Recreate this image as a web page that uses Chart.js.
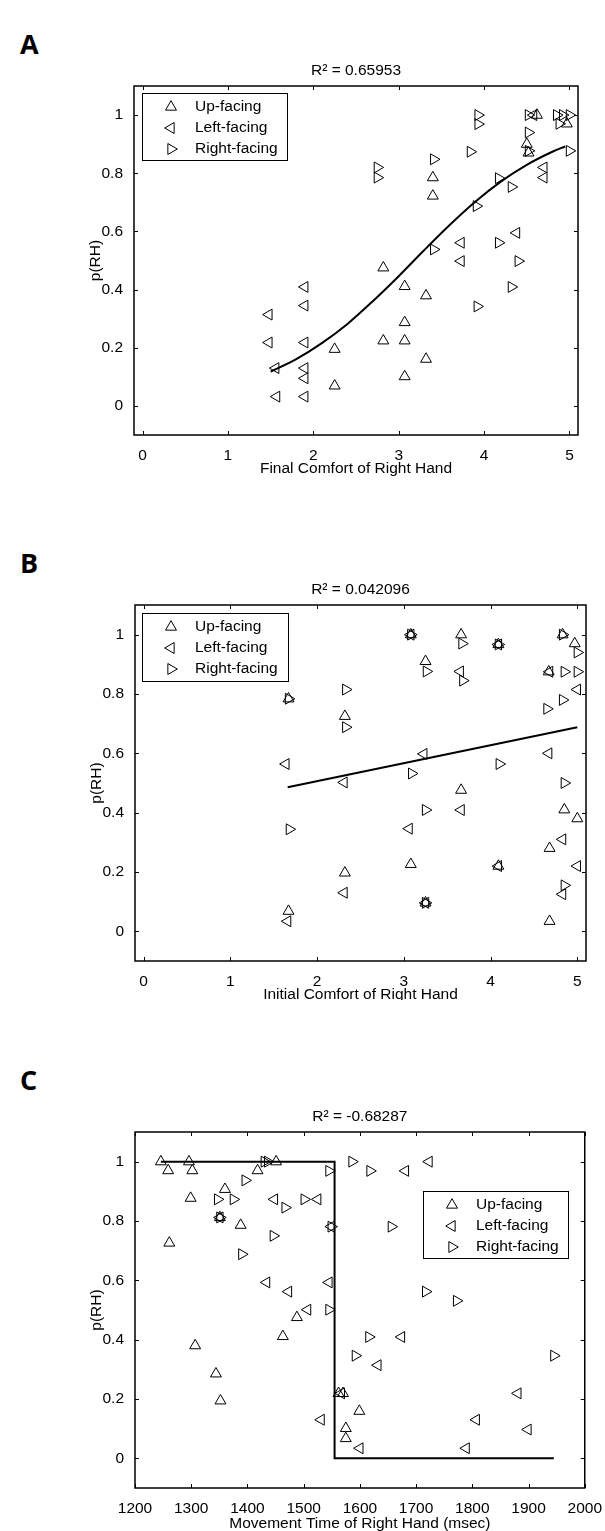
<!DOCTYPE html>
<html>
<head>
<meta charset="utf-8">
<script src="https://cdn.jsdelivr.net/npm/chart.js@4.4.0/dist/chart.umd.min.js"></script>
<style>
  html, body { margin: 0; padding: 0; background: #fff; }
  body { width: 605px; height: 1531px; position: relative; overflow: hidden; }
  .panel { position: absolute; left: 0; width: 605px; }
  .tag { position: absolute; left: 20px; font: bold 27px 'Open Sans', 'DejaVu Sans', sans-serif; color: #000; }
</style>
</head>
<body>
<div class="tag" style="top:25px">A</div>
<div class="tag" style="top:544px">B</div>
<div class="tag" style="top:1061px">C</div>
<div class="panel" style="top:0;height:500px"><canvas id="chartA" width="605" height="500"></canvas></div>
<div class="panel" style="top:500px;height:500px"><canvas id="chartB" width="605" height="500"></canvas></div>
<div class="panel" style="top:1000px;height:531px"><canvas id="chartC" width="605" height="531"></canvas></div>
<script>
// ---- data ----
const seriesNames = ['Up-facing', 'Left-facing', 'Right-facing']
const pTicks = [0, 0.2, 0.4, 0.6, 0.8, 1]
const comfortTicks = [0, 1, 2, 3, 4, 5]
const timeTicks = [1200, 1300, 1400, 1500, 1600, 1700, 1800, 1900, 2000]

// A: final comfort of right hand
const aUpX = [3.40, 3.40, 2.82, 3.07, 3.32, 3.07, 2.82, 3.07, 2.25, 3.32, 3.07, 2.25, 4.50, 4.52, 4.62, 4.97]
const aUpY = [0.785, 0.722, 0.475, 0.411, 0.379, 0.287, 0.224, 0.224, 0.195, 0.161, 0.101, 0.069, 0.90, 0.87, 1.0, 0.97]
const aLeftX = [1.90, 1.48, 1.48, 1.56, 1.57, 1.90, 1.90, 1.90, 1.90, 1.90, 4.38, 3.73, 3.73, 4.58, 4.70, 4.70]
const aLeftY = [0.409, 0.314, 0.218, 0.13, 0.032, 0.345, 0.218, 0.13, 0.095, 0.032, 0.595, 0.561, 0.498, 1.0, 0.82, 0.785]
const aRightX = [3.93, 3.93, 3.84, 2.75, 2.75, 3.41, 4.17, 4.32, 3.91, 4.17, 3.41, 4.40, 4.32, 3.92, 4.52, 4.52, 4.52, 4.85, 4.92, 4.88, 5.0, 5.0]
const aRightY = [1.0, 0.969, 0.874, 0.82, 0.785, 0.848, 0.783, 0.753, 0.687, 0.561, 0.538, 0.498, 0.409, 0.342, 1.0, 0.94, 0.877, 1.0, 1.0, 0.97, 0.877, 1.0]
const aFitX = [1.5, 1.8, 2.1, 2.4, 2.7, 3.0, 3.3, 3.6, 3.9, 4.2, 4.5, 4.8, 4.95]
const aFitY = [0.118, 0.161, 0.216, 0.282, 0.361, 0.446, 0.536, 0.623, 0.703, 0.772, 0.829, 0.874, 0.892]

// B: initial comfort of right hand
const bUpX = [1.67, 1.67, 3.08, 3.66, 4.09, 3.25, 2.32, 3.66, 3.08, 4.09, 2.32, 3.25, 4.83, 4.97, 4.67, 4.85, 5.0, 4.68, 4.68]
const bUpY = [0.784, 0.068, 1.0, 1.0, 0.967, 0.91, 0.725, 0.476, 0.226, 0.22, 0.197, 0.096, 1.0, 0.97, 0.875, 0.41, 0.38, 0.28, 0.034]
const bLeftX = [1.64, 1.66, 3.08, 4.09, 3.65, 3.23, 2.31, 3.66, 3.06, 4.09, 2.31, 3.25, 4.68, 5.0, 4.67, 4.83, 5.0, 4.83]
const bLeftY = [0.564, 0.034, 1.0, 0.967, 0.876, 0.598, 0.502, 0.409, 0.346, 0.22, 0.13, 0.096, 0.875, 0.815, 0.6, 0.31, 0.22, 0.125]
const bRightX = [1.67, 1.68, 3.08, 3.67, 4.09, 3.26, 3.68, 2.33, 2.33, 4.10, 3.09, 3.25, 3.25, 4.83, 5.0, 4.85, 5.0, 4.83, 4.65, 4.85, 4.85]
const bRightY = [0.784, 0.344, 1.0, 0.97, 0.967, 0.876, 0.845, 0.815, 0.688, 0.564, 0.532, 0.409, 0.096, 1.0, 0.94, 0.875, 0.875, 0.78, 0.75, 0.5, 0.155]
const bFitX = [1.66, 5.0]
const bFitY = [0.486, 0.688]

// C: movement time of right hand (msec)
const cUpX = [1246, 1259, 1296, 1302, 1299, 1360, 1351, 1388, 1418, 1451, 1261, 1488, 1463, 1307, 1344, 1352, 1562, 1570, 1599, 1575, 1575]
const cUpY = [1.0, 0.97, 1.0, 0.97, 0.877, 0.907, 0.812, 0.786, 0.97, 1.0, 0.726, 0.475, 0.411, 0.38, 0.285, 0.194, 0.219, 0.219, 0.159, 0.101, 0.067]
const cLeftX = [1351, 1448, 1681, 1723, 1525, 1549, 1434, 1473, 1507, 1545, 1674, 1632, 1567, 1881, 1531, 1807, 1899, 1600, 1789]
const cLeftY = [0.812, 0.873, 0.969, 1.0, 0.873, 0.781, 0.593, 0.562, 0.501, 0.593, 0.409, 0.314, 0.219, 0.219, 0.13, 0.13, 0.097, 0.034, 0.034]
const cRightX = [1351, 1347, 1375, 1396, 1430, 1436, 1467, 1501, 1446, 1545, 1586, 1618, 1549, 1656, 1390, 1545, 1717, 1772, 1616, 1592, 1945]
const cRightY = [0.812, 0.873, 0.873, 0.937, 1.0, 1.0, 0.845, 0.873, 0.75, 0.969, 1.0, 0.969, 0.781, 0.781, 0.688, 0.501, 0.562, 0.531, 0.409, 0.346, 0.346]
const cFitX = [1246, 1555, 1555, 1945]
const cFitY = [1, 1, 0, 0]

// ---- look ----
const FAMILY = "'Liberation Sans', Arial, sans-serif"
const FONT = 15.5
const markerRot = [0, -90, 90]
Chart.defaults.font.family = FAMILY
Chart.defaults.font.size = FONT
Chart.defaults.color = '#000'

const pts = (xs, ys) => xs.map((x, i) => ({ x, y: ys[i] }))
const fmt = v => String(+v.toFixed(2))

// box round the axes with inward ticks on all four sides (matlab style)
const framePlugin = {
  id: 'frame',
  afterDraw(chart) {
    const { ctx, chartArea: a, scales: { x, y } } = chart
    ctx.save()
    ctx.strokeStyle = '#000'
    ctx.lineWidth = 1
    ctx.beginPath()
    x.ticks.forEach(t => {
      const px = Math.round(x.getPixelForValue(t.value)) + 0.5
      ctx.moveTo(px, a.bottom); ctx.lineTo(px, a.bottom - 4)
      ctx.moveTo(px, a.top); ctx.lineTo(px, a.top + 4)
    })
    y.ticks.forEach(t => {
      const py = Math.round(y.getPixelForValue(t.value)) + 0.5
      ctx.moveTo(a.left, py); ctx.lineTo(a.left + 4, py)
      ctx.moveTo(a.right, py); ctx.lineTo(a.right - 4, py)
    })
    ctx.stroke()
    ctx.lineWidth = 1.5
    ctx.strokeRect(a.left, a.top, a.right - a.left, a.bottom - a.top)
    ctx.restore()
  }
}

// boxed legend sitting inside the plot
const boxLegend = {
  id: 'boxLegend',
  afterDatasetsDraw(chart, args, o) {
    if (!o || !o.box) return
    const ctx = chart.ctx
    const [x0, y0, w, h] = o.box
    ctx.save()
    ctx.fillStyle = '#fff'
    ctx.fillRect(x0, y0, w, h)
    ctx.strokeStyle = '#000'
    ctx.lineWidth = 1
    ctx.strokeRect(x0 + 0.5, y0 + 0.5, w, h)
    ctx.font = FONT + 'px ' + FAMILY
    ctx.textBaseline = 'middle'
    chart.data.datasets.slice(0, 3).forEach((ds, i) => {
      const cy = y0 + o.rows[i]
      ctx.fillStyle = 'rgba(0,0,0,0)'
      ctx.strokeStyle = '#000'
      ctx.lineWidth = 1
      Chart.helpers.drawPoint(ctx, { pointStyle: 'triangle', rotation: ds.rotation, radius: ds.pointRadius, borderWidth: 1 }, x0 + o.markerX, cy)
      ctx.fillStyle = '#000'
      ctx.fillText(ds.label, x0 + o.textX, cy)
    })
    ctx.restore()
  }
}

function makePanel(id, p) {
  const canvas = document.getElementById(id)
  const Y_AXIS_W = 60
  const X_AXIS_H = 45
  const titleH = FONT * 1.2 + 6
  const a = p.area

  const datasets = p.series.map((s, i) => ({
    label: seriesNames[i],
    data: pts(s[0], s[1]),
    showLine: false,
    pointStyle: 'triangle',
    rotation: markerRot[i],
    pointRadius: 6.3,
    borderWidth: 1,
    borderColor: '#000',
    backgroundColor: 'rgba(0,0,0,0)'
  }))
  datasets.push({
    label: 'fit',
    data: pts(p.fit[0], p.fit[1]),
    showLine: true,
    pointRadius: 0,
    borderWidth: 2,
    borderColor: '#000',
    backgroundColor: 'rgba(0,0,0,0)',
    cubicInterpolationMode: p.smooth ? 'monotone' : 'default',
    tension: 0
  })

  return new Chart(canvas, {
    type: 'scatter',
    data: { datasets },
    plugins: [framePlugin, boxLegend],
    options: {
      responsive: false,
      animation: false,
      events: [],
      devicePixelRatio: 1,
      layout: {
        padding: {
          left: a.left - Y_AXIS_W,
          right: canvas.width - a.right,
          top: a.top - p.top - titleH,
          bottom: p.top + canvas.height - a.bottom - X_AXIS_H
        }
      },
      plugins: {
        legend: { display: false },
        tooltip: { enabled: false },
        title: {
          display: true,
          text: p.title,
          fullSize: false,
          color: '#000',
          font: { size: FONT, weight: 'normal' },
          padding: { top: 0, bottom: 6 }
        },
        boxLegend: {
          box: [p.legend[0], p.legend[1] - p.top, p.legend[2], p.legend[3]],
          rows: [14, 35, 56],
          markerX: 29,
          textX: 53
        }
      },
      scales: {
        x: {
          type: 'linear',
          min: p.xMin,
          max: p.xMax,
          afterBuildTicks: s => { s.ticks = p.xTicks.map(v => ({ value: v })) },
          afterFit: s => { s.height = X_AXIS_H },
          grid: { display: false },
          border: { display: false },
          ticks: { padding: 3, maxRotation: 0, autoSkip: false, callback: fmt },
          title: { display: true, text: p.xTitle, color: '#000', font: { size: FONT }, padding: { top: 0, bottom: p.xTitlePad } }
        },
        y: {
          type: 'linear',
          min: -0.1,
          max: 1.1,
          afterBuildTicks: s => { s.ticks = pTicks.map(v => ({ value: v })) },
          afterFit: s => { s.width = Y_AXIS_W },
          grid: { display: false },
          border: { display: false },
          ticks: { padding: 3, autoSkip: false, callback: fmt },
          title: { display: true, text: 'p(RH)', color: '#000', font: { size: FONT }, padding: { top: 12, bottom: 0 } }
        }
      }
    }
  })
}

makePanel('chartA', {
  top: 0,
  area: { left: 134, top: 86, right: 578, bottom: 435 },
  title: 'R² = 0.65953',
  xTitle: 'Final Comfort of Right Hand',
  xTitlePad: 2,
  xMin: -0.1, xMax: 5.1, xTicks: comfortTicks,
  series: [[aUpX, aUpY], [aLeftX, aLeftY], [aRightX, aRightY]],
  fit: [aFitX, aFitY], smooth: true,
  legend: [142, 93, 145, 67]
})

makePanel('chartB', {
  top: 500,
  area: { left: 135, top: 605, right: 586, bottom: 961 },
  title: 'R² = 0.042096',
  xTitle: 'Initial Comfort of Right Hand',
  xTitlePad: 2,
  xMin: -0.1, xMax: 5.1, xTicks: comfortTicks,
  series: [[bUpX, bUpY], [bLeftX, bLeftY], [bRightX, bRightY]],
  fit: [bFitX, bFitY], smooth: false,
  legend: [142, 613, 146, 68]
})

makePanel('chartC', {
  top: 1000,
  area: { left: 135, top: 1132, right: 585, bottom: 1488 },
  title: 'R² = -0.68287',
  xTitle: 'Movement Time of Right Hand (msec)',
  xTitlePad: 0,
  xMin: 1200, xMax: 2000, xTicks: timeTicks,
  series: [[cUpX, cUpY], [cLeftX, cLeftY], [cRightX, cRightY]],
  fit: [cFitX, cFitY], smooth: false,
  legend: [423, 1191, 145, 67]
})
</script>
</body>
</html>
